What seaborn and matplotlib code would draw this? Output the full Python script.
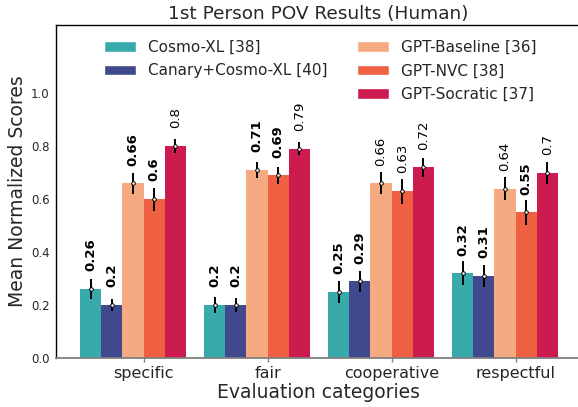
import matplotlib
matplotlib.use("Agg")
import matplotlib.pyplot as plt
import seaborn as sns
import pandas as pd
from matplotlib.patches import Patch

categories = ["specific", "fair", "cooperative", "respectful"]
models = ["Cosmo-XL [38]", "Canary+Cosmo-XL [40]", "GPT-Baseline [36]", "GPT-NVC [38]", "GPT-Socratic [37]"]
colors = ["#38AAAC", "#40498E", "#F6AA82", "#F06043", "#CB1B4F"]

cosmo = [0.26, 0.20, 0.25, 0.32]
canary = [0.20, 0.20, 0.29, 0.31]
baseline = [0.66, 0.71, 0.66, 0.64]
nvc = [0.60, 0.69, 0.63, 0.55]
socratic = [0.80, 0.79, 0.72, 0.70]

cosmo_err = [0.038, 0.031, 0.042, 0.045]
canary_err = [0.022, 0.025, 0.040, 0.041]
baseline_err = [0.039, 0.029, 0.042, 0.045]
nvc_err = [0.044, 0.033, 0.047, 0.046]
socratic_err = [0.026, 0.025, 0.035, 0.042]

# bold labels (per model, per category)
cosmo_bold = [True, True, True, True]
canary_bold = [True, True, True, True]
baseline_bold = [True, True, False, False]
nvc_bold = [True, True, False, True]
socratic_bold = [False, False, False, False]

values = [cosmo, canary, baseline, nvc, socratic]
errors = [cosmo_err, canary_err, baseline_err, nvc_err, socratic_err]
bolds = [cosmo_bold, canary_bold, baseline_bold, nvc_bold, socratic_bold]

rows = []
for m, vals in zip(models, values):
    for c, v in zip(categories, vals):
        rows.append({"category": c, "model": m, "score": v})
df = pd.DataFrame(rows)

sns.set_style("white")
plt.rcParams["font.family"] = ["DejaVu Sans"]

fig = plt.figure(figsize=(5.78, 4.07), dpi=100)
ax = fig.add_axes([56 / 578, 49 / 407, 525 / 578, 333 / 407])

width = 0.855
sns.barplot(data=df, x="category", y="score", hue="model", order=categories,
            hue_order=models, palette=colors, width=width, errorbar=None,
            saturation=1, ax=ax, legend=False, linewidth=0, edgecolor="none")

txt_color = "#262626"
bar_conts = list(ax.containers)
for hi, cont in enumerate(bar_conts):
    for ci, bar in enumerate(cont.patches):
        x = bar.get_x() + bar.get_width() / 2
        v = values[hi][ci]
        e = errors[hi][ci]
        ax.errorbar(x, v, yerr=e, fmt="o", color="black", ecolor="black",
                    elinewidth=1.4, markersize=2.6, markerfacecolor="white",
                    markeredgecolor="black", markeredgewidth=0.7, zorder=5)
        ax.text(x, v + 0.067, f"{v:g}", rotation=90, ha="center", va="bottom",
                fontsize=9.5, fontweight="bold" if bolds[hi][ci] else "normal",
                color="black")

bw = width / 5
ax.set_xticks([i + bw / 2 for i in range(len(categories))])
ax.set_xticklabels(categories, fontsize=11.5, color=txt_color)
ax.set_xlim(-0.621, 3.613)
ax.set_ylim(0, 1.258)
ax.set_yticks([0.0, 0.2, 0.4, 0.6, 0.8, 1.0])
ax.set_yticklabels(["0.0", "0.2", "0.4", "0.6", "0.8", "1.0"], fontsize=8.5, color=txt_color)
ax.tick_params(axis="y", length=0, pad=4.5)
ax.tick_params(axis="x", length=3, width=1, color="#808080", pad=3, bottom=True)

ax.set_xlabel("Evaluation categories", fontsize=13.5, color=txt_color, labelpad=1)
ax.set_ylabel("Mean Normalized Scores", fontsize=13.5, color=txt_color, labelpad=3)
ax.set_title("1st Person POV Results (Human)", fontsize=13.3, color=txt_color, pad=4)

for s in ["left", "top"]:
    ax.spines[s].set_color("black")
    ax.spines[s].set_linewidth(1.0)
ax.spines["right"].set_visible(False)
ax.spines["bottom"].set_color("#808080")
ax.spines["bottom"].set_linewidth(1.3)

handles = [Patch(facecolor=colors[0]), Patch(facecolor=colors[1]), Patch(alpha=0),
           Patch(facecolor=colors[2]), Patch(facecolor=colors[3]), Patch(facecolor=colors[4])]
labels = [models[0], models[1], "", models[2], models[3], models[4]]
leg = ax.legend(handles, labels, ncol=2, loc="upper left", bbox_to_anchor=(0.0914, 0.955),
                frameon=False, fontsize=11, borderpad=0, borderaxespad=0,
                columnspacing=1.9, handlelength=2.1, labelspacing=0.55, handletextpad=0.8)
for t in leg.get_texts():
    t.set_color(txt_color)

fig.savefig("out.png", dpi=100)
